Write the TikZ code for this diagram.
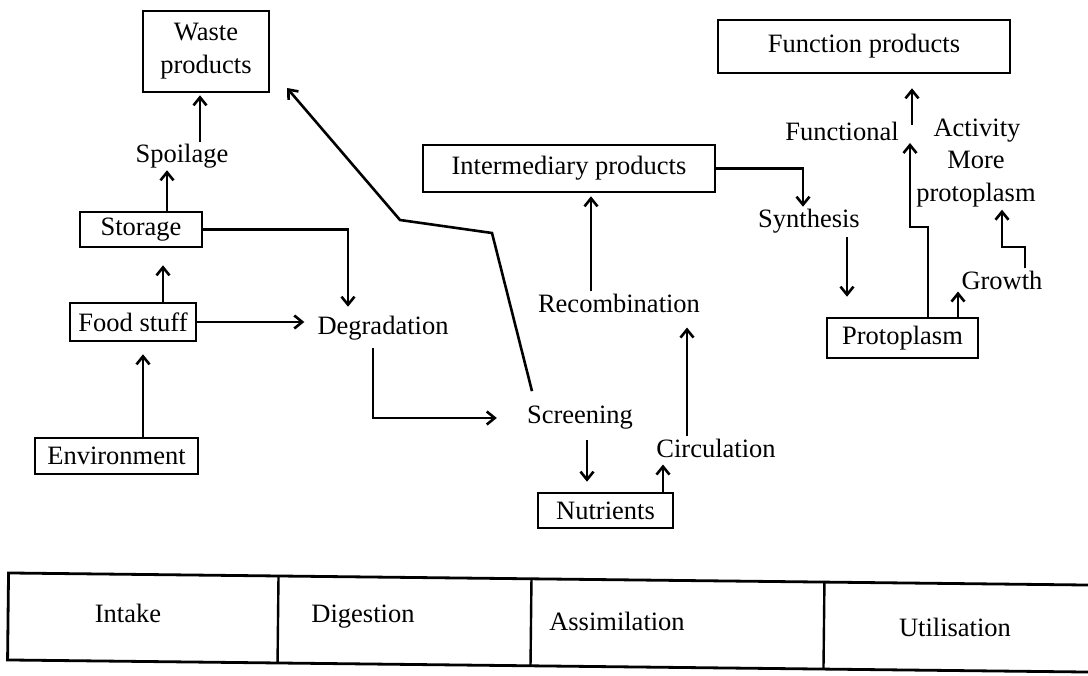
\documentclass[tikz,border=0pt]{standalone}
\usepackage{fontspec}
\setmainfont{Liberation Serif}
\usetikzlibrary{arrows.meta,calc}
\begin{document}
\begin{tikzpicture}[x=1pt,y=-1pt,
  every node/.style={font=\fontsize{26.5}{33}\selectfont, inner sep=2pt, align=center},
  lbl/.style={yshift=-3pt},
  box/.style 2 args={draw, line width=2.6pt, minimum width=#1, minimum height=#2},
  arr/.style={line width=2.6pt, -{Straight Barb[length=8pt,width=13pt]}}]
\useasboundingbox (0,0) rectangle (1088,676);

% nodes
\node[box={126pt}{81pt}] (waste) at (206,51.5) {Waste\\products};
\node[lbl] (spoil) at (182,153) {Spoilage};
\node[box={122pt}{35pt}] (storage) at (141,229.5) {Storage};
\node[box={126pt}{38pt}] (food) at (133,322) {Food stuff};
\node[box={163pt}{36pt}] (env) at (116.5,456) {Environment};
\node[lbl] (degr) at (383,325) {Degradation};
\node[lbl] (screen) at (580,415) {Screening};
\node[box={135pt}{35pt}] (nutr) at (605.5,510.5) {Nutrients};
\node[lbl] (circ) at (716,445) {Circulation};
\node[lbl] (recomb) at (619,300) {Recombination};
\node[box={292pt}{47pt}] (inter) at (569,168.5) {Intermediary products};
\node[lbl] (synth) at (809,218) {Synthesis};
\node[box={151pt}{40pt}] (proto) at (902.5,338) {Protoplasm};
\node[box={292pt}{53pt}] (func) at (864,46.5) {Function products};
\node[lbl] (functional) at (842,128) {Functional};
\node[lbl] (activity) at (977,128) {Activity};
\node[lbl] (more) at (976,176.5) {More\\protoplasm};
\node[lbl] (growth) at (1002,277) {Growth};

\coordinate (k1) at (492,233);
\coordinate (k2) at (400,220);
\coordinate (wt) at (287,88);
\coordinate (pk) at (910,227);
\coordinate (fa) at (910,143);
\coordinate (fb) at (912,125);
\coordinate (gk) at (1002,247);

% connectors
\draw[arr] ([xshift=26pt]storage.north) -- ([xshift=26pt]storage.north |- spoil.south);
\draw[arr, shorten >=2pt] ([xshift=-6pt]waste.south |- spoil.north) -- ([xshift=-6pt]waste.south);
\draw[arr, shorten >=7pt] (storage.east) -| ([xshift=-35pt]degr.north);
\draw[arr, shorten >=11pt] (food.east) -- (food.east -| degr.west);
\draw[arr, shorten >=17pt] ([xshift=30pt]food.north) -- ([xshift=30pt]food.north |- storage.south);
\draw[arr, shorten >=12pt] ([xshift=26.5pt]env.north) -- ([xshift=26.5pt]env.north |- food.south);
\draw[arr, shorten <=6pt, shorten >=28pt] ([xshift=-10pt]degr.south) |- (screen.west);
\draw[arr] ([xshift=-48pt,yshift=13pt]screen.north) -- (k1) -- (k2) -- (wt);
\draw[arr, shorten <=8pt, shorten >=10pt] ([xshift=7pt]screen.south) -- ([xshift=7pt]screen.south |- nutr.north);
\draw[arr, shorten >=5pt] ([xshift=57.5pt]nutr.north) -- ([xshift=57.5pt]nutr.north |- circ.south);
\draw[arr, shorten >=13pt] ([xshift=-29pt]circ.north) -- ([xshift=-29pt]circ.north |- recomb.south);
\draw[arr, shorten >=3pt] ([xshift=-28pt]recomb.north) -- ([xshift=-28pt]recomb.north |- inter.south);
\draw[arr] (inter.east) -| ([xshift=-6pt]synth.north);
\draw[arr, shorten <=2pt, shorten >=20pt] ([xshift=38pt]synth.south) -- ([xshift=38pt]synth.south |- proto.north);
\draw[arr] ([xshift=25.5pt]proto.north) |- (pk) -- (fa);
\draw[arr, shorten >=14pt] (fb) -- (fb |- func.south);
\draw[arr] ([xshift=55.5pt]proto.north) -- ([xshift=55.5pt]proto.north |- growth.south);
\draw[arr] ([xshift=23pt]growth.north) |- (gk) -- (gk |- more.south);

% bottom table
\begin{scope}[rotate around={-0.64:(548,622)}]
\draw[line width=2.8pt] (8,579) rectangle (1098,666);
\draw[line width=2.4pt] (278,579) -- (278,666);
\draw[line width=2.4pt] (531,579) -- (531,666);
\draw[line width=2.4pt] (824,579) -- (824,666);
\end{scope}
\node (intake) at (128,613) {Intake};
\node (digest) at (363,617) {Digestion};
\node (assim) at (617,621) {Assimilation};
\node (util) at (955,627) {Utilisation};
\end{tikzpicture}
\end{document}
